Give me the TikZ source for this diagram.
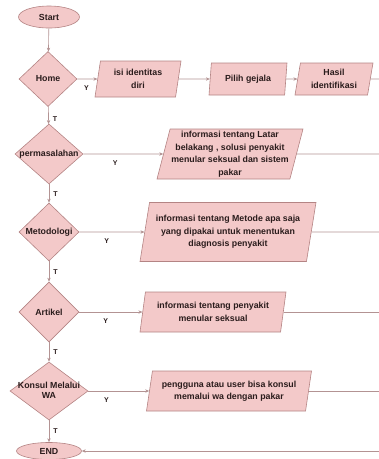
\documentclass[tikz,border=0pt]{standalone}
\usepackage{fontspec}
\setmainfont{Liberation Sans}
\usetikzlibrary{shapes.geometric,arrows.meta}
\definecolor{boxfill}{HTML}{F3C9C9}
\definecolor{boxline}{HTML}{B48484}
\definecolor{conline}{HTML}{B39393}
\definecolor{txt}{HTML}{2A1C1C}
\tikzset{
  base/.style={draw=boxline, fill=boxfill, line width=0.6pt, inner sep=0pt, text=txt,
    font=\fontsize{8.8}{12.5}\selectfont\bfseries, align=center},
  terminal/.style={base, ellipse, minimum width=#1},
  decision/.style={base, diamond},
  iobox/.style={base, trapezium, trapezium left angle=74, trapezium right angle=106,
    trapezium stretches body},
  arr/.style={draw=conline, line width=0.6pt, -{Stealth[length=4pt,width=3.4pt]}},
  plain/.style={draw=conline, line width=0.6pt},
  lab/.style={text=txt, font=\fontsize{7}{8}\selectfont\bfseries, inner sep=1pt},
  tlab/.style={lab, right, xshift=3pt},
  ylab/.style={lab, below=5pt}
}
\begin{document}
\begin{tikzpicture}[x=1pt,y=-1pt]
\useasboundingbox (0,0) rectangle (379,459);
% terminals
\node[terminal=61pt, minimum height=22pt] (start) at (49,17) {Start};
\node[terminal=65pt, minimum height=17pt] (end) at (49,451) {END};
% decisions
\node[decision, minimum width=58pt, minimum height=55pt] (home) at (48,79) {\makebox[0pt]{Home}};
\node[decision, minimum width=68pt, minimum height=60pt] (perm) at (49,154) {\makebox[0pt]{permasalahan}};
\node[decision, minimum width=60pt, minimum height=58pt] (meto) at (49,232) {\makebox[0pt]{Metodologi}};
\node[decision, minimum width=60pt, minimum height=60pt] (art) at (49,312) {\makebox[0pt]{Artikel}};
\node[decision, minimum width=78pt, minimum height=58pt] (konsul) at (49,391)
  {\makebox[0pt]{\begin{tabular}{@{}c@{}}Konsul Melalui\\[-2pt]WA\end{tabular}}};
% io boxes
\node[iobox, minimum width=86pt, minimum height=36pt] (isi) at (138,79) {isi identitas\\diri};
\node[iobox, minimum width=78pt, minimum height=32pt] (pilih) at (248,79) {Pilih gejala};
\node[iobox, minimum width=78pt, minimum height=32pt] (hasil) at (334,79) {Hasil\\identifikasi};
\node[iobox, minimum width=146pt, minimum height=50pt] (latar) at (230,154)
  {informasi tentang Latar\\belakang , solusi penyakit\\menular seksual dan sistem\\pakar};
\node[iobox, minimum width=176pt, minimum height=59pt] (metode) at (228,232)
  {informasi tentang Metode apa saja\\yang dipakai untuk menentukan\\diagnosis penyakit};
\node[iobox, minimum width=146pt, minimum height=40pt] (peny) at (213,312)
  {informasi tentang penyakit\\menular seksual};
\node[iobox, minimum width=165pt, minimum height=40pt] (peng) at (229,391)
  {pengguna atau user bisa konsul\\memalui wa dengan pakar};
% right edge coordinates
\coordinate (r1) at (379,79);
\coordinate (r2) at (379,154);
\coordinate (r3) at (379,232);
\coordinate (r4) at (379,312);
\coordinate (r5) at (379,391);
\coordinate (r6) at (379,451);
% vertical flow
\draw[arr] (start) -- (home);
\draw[arr] (home) -- node[tlab, pos=0.7] {T} (perm);
\draw[arr] (perm) -- node[tlab, pos=0.55] {T} (meto);
\draw[arr] (meto) -- node[tlab, pos=0.55] {T} (art);
\draw[arr] (art) -- node[tlab, pos=0.5] {T} (konsul);
\draw[arr] (konsul) -- node[tlab, pos=0.5] {T} (end);
% horizontal flow
\draw[arr] (home) -- node[ylab, pos=0.45] {Y} (isi);
\draw[arr] (isi) -- (pilih);
\draw[arr] (pilih) -- (hasil);
\draw[plain] (hasil) -- (r1);
\draw[arr] (perm) -- node[ylab, pos=0.4] {Y} (latar);
\draw[plain] (latar) -- (r2);
\draw[arr] (meto) -- node[ylab, pos=0.42] {Y} (metode);
\draw[plain] (metode) -- (r3);
\draw[arr] (art) -- node[ylab, pos=0.42] {Y} (peny);
\draw[plain] (peny) -- (r4);
\draw[arr] (konsul) -- node[ylab, pos=0.3] {Y} (peng);
\draw[plain] (peng) -- (r5);
\draw[arr] (r6) -- (end);
\end{tikzpicture}
\end{document}
